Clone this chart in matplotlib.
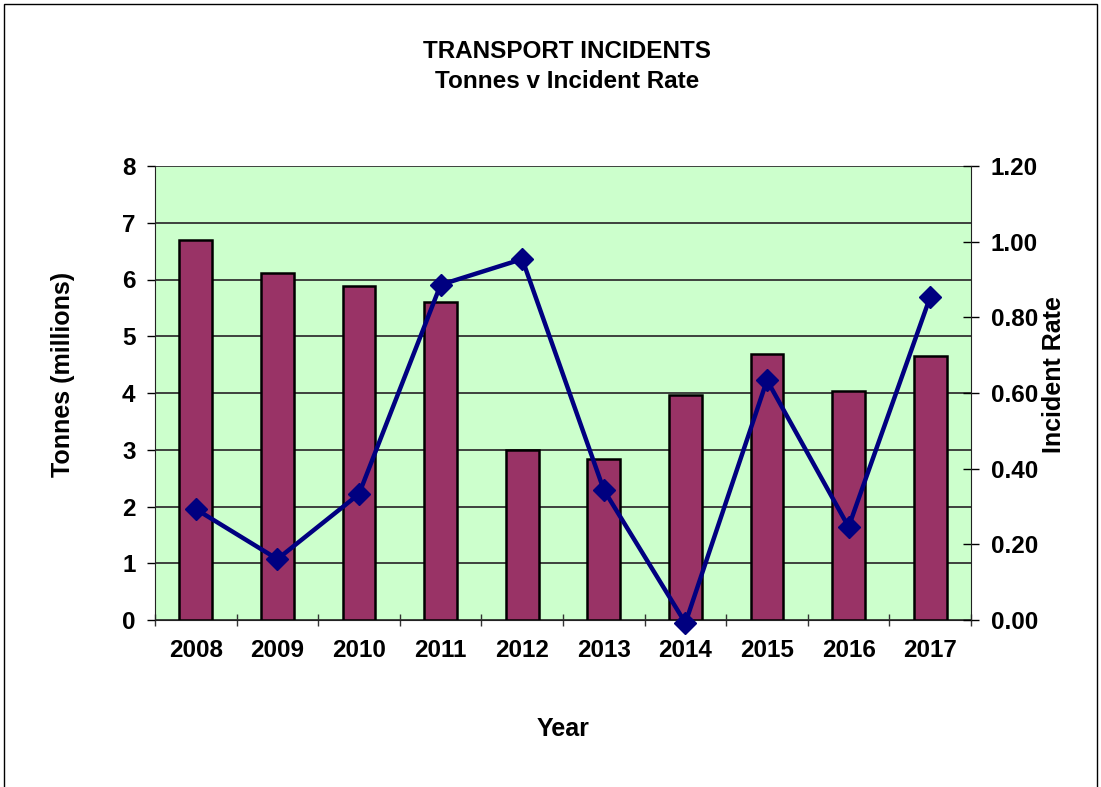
import matplotlib
matplotlib.use("Agg")
import matplotlib.pyplot as plt
import numpy as np
from matplotlib.patches import Rectangle

years = ["2008", "2009", "2010", "2011", "2012", "2013", "2014", "2015", "2016", "2017"]
tonnes = [6.70, 6.11, 5.89, 5.60, 3.00, 2.84, 3.97, 4.68, 4.03, 4.65]
incident_rate = [0.293, 0.161, 0.333, 0.886, 0.954, 0.344, -0.008, 0.634, 0.246, 0.854]

plt.rcParams['font.family'] = ['Liberation Sans', 'DejaVu Sans']
plt.rcParams['font.weight'] = 'bold'

TICK_FS = 17.5
LABEL_FS = 18

fig = plt.figure(figsize=(11.01, 7.87), dpi=100)
ax = fig.add_axes([155/1101, 1-620/787, (971-155)/1101, (620-166)/787])
ax.set_facecolor('#CCFFCC')

x = np.arange(len(years))
ax.bar(x, tonnes, width=0.4, color='#993366', edgecolor='black', linewidth=1.8, zorder=3)
ax.set_xlim(-0.5, len(years)-0.5)
ax.set_ylim(0, 8)
ax.set_yticks(range(0, 9))
ax.yaxis.grid(True, color='#333333', linewidth=1.3, zorder=0)
ax.set_axisbelow(True)
ax.set_xticks(x)
ax.set_xticklabels(years, fontsize=TICK_FS, fontweight='bold')
ax.set_xticks(np.arange(-0.5, len(years)), minor=True)
ax.tick_params(axis='x', which='major', length=0, pad=14)
ax.tick_params(axis='x', which='minor', length=9, width=1, color='#333333', direction='inout')
ax.tick_params(axis='y', labelsize=TICK_FS, length=6, width=1, pad=8)
for lbl in ax.get_yticklabels():
    lbl.set_fontweight('bold')
ax.spines['top'].set_visible(False)
ax.spines['right'].set_visible(False)
ax.spines['left'].set_color('#222222')
ax.spines['bottom'].set_color('#222222')
ax.set_ylabel('Tonnes (millions)', fontsize=LABEL_FS, fontweight='bold', labelpad=34)
ax.yaxis.label.set_y(0.54)
ax.set_xlabel('Year', fontsize=LABEL_FS, fontweight='bold', labelpad=39)

ax2 = ax.twinx()
ax2.plot(x, incident_rate, color='#000080', linewidth=3.2, marker='D', markersize=11,
         zorder=5, clip_on=False)
ax2.set_ylim(0, 1.2)
ax2.set_yticks(np.arange(0, 1.21, 0.2))
ax2.set_yticklabels([f"{v:.2f}" for v in np.arange(0, 1.21, 0.2)], fontsize=TICK_FS, fontweight='bold')
ax2.tick_params(axis='y', length=11.5, width=1, pad=8.5, direction='inout')
for s in ['top', 'left', 'bottom']:
    ax2.spines[s].set_visible(False)
ax2.spines['right'].set_color('#222222')
ax2.set_ylabel('Incident Rate', fontsize=LABEL_FS, fontweight='bold', labelpad=3)
ax2.yaxis.label.set_y(0.54)

fig.text(567/1101, 1-52/787, 'TRANSPORT INCIDENTS', ha='center', va='center', fontsize=17.5, fontweight='bold')
fig.text(567/1101, 1-81/787, 'Tonnes v Incident Rate', ha='center', va='center', fontsize=17.5, fontweight='bold')

fig.add_artist(Rectangle((4/1101, -0.01), (1097-4)/1101, 1-4/787+0.01, transform=fig.transFigure,
                         fill=False, edgecolor='black', linewidth=1))

fig.savefig('out.png', dpi=100)
